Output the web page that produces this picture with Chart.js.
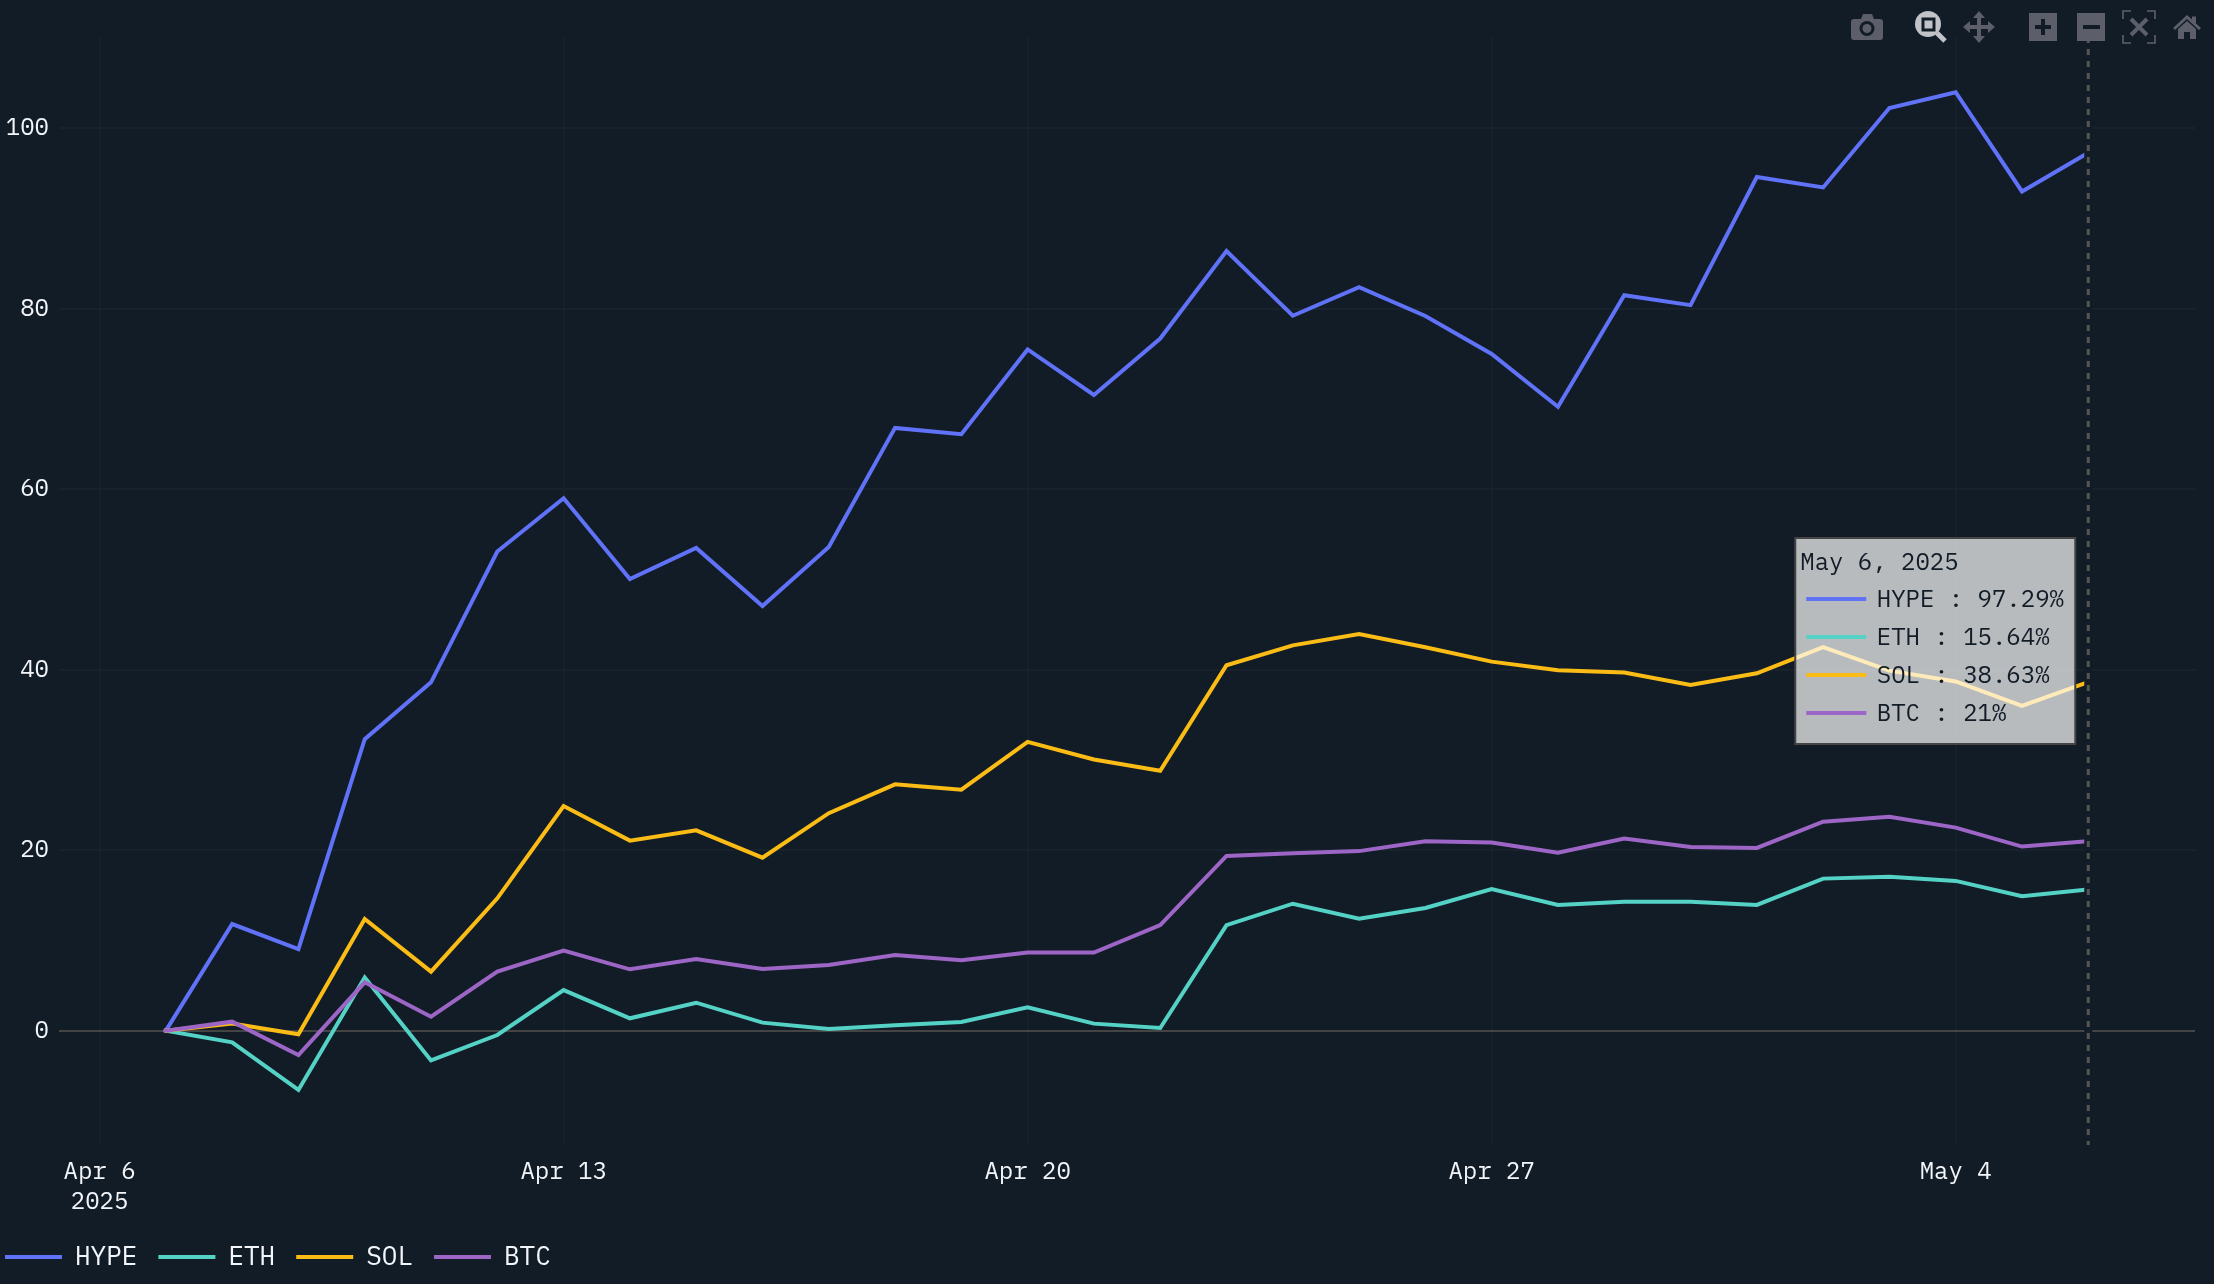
<!DOCTYPE html>
<html>
<head>
<meta charset="utf-8">
<title>HYPE ETH SOL BTC</title>
<style>
  html, body { margin: 0; padding: 0; background: #121c27; }
  #wrap { position: relative; width: 2214px; height: 1284px; overflow: hidden; }
  #myChart { position: absolute; left: 0; top: 0; }
  #modebar { position: absolute; left: 0; top: 0; }
</style>
<script src="https://cdn.jsdelivr.net/npm/chart.js@4"></script>
</head>
<body>
<div id="wrap">
  <canvas id="myChart" width="2214" height="1284"></canvas>
  <!-- plotly style toolbar -->
  <svg id="modebar" width="2214" height="60" viewBox="0 0 2214 60">
    <g fill="#5c5f69">
      <path d="M1854 19h7l2-5h9l2 5h6a3 3 0 0 1 3 3v15a3 3 0 0 1-3 3h-26a3 3 0 0 1-3-3v-15a3 3 0 0 1 3-3z"/>
      <circle cx="1867" cy="28.5" r="7.5" fill="#121c27"/>
      <circle cx="1867" cy="28.5" r="4.5"/>
      <path d="M1979 11l6 7h-4v7h7v-4l7 6-7 6v-4h-7v7h4l-6 7-6-7h4v-7h-7v4l-7-6 7-6v4h7v-7h-4z"/>
      <rect x="2029" y="13" width="28" height="28"/>
      <rect x="2077" y="13" width="28" height="28"/>
      <path d="M2173 28l14-13 5 4.500v-3h4v7l5 4.500-2 2-12-11-12 11z"/>
      <path d="M2178 29l9-8 9 8v10h-6v-7h-6v7h-6z"/>
      <g fill="none" stroke="#5c5f69">
        <path stroke-width="1.6" d="M2123 19v-8h8M2147 11h8v8M2155 35v8h-8M2131 43h-8v-8"/>
        <path stroke-width="4" d="M2131 19l16 16M2147 19l-16 16"/>
      </g>
    </g>
    <g fill="#121c27">
      <rect x="2041" y="19" width="4" height="16"/>
      <rect x="2035" y="25" width="16" height="4"/>
      <rect x="2083" y="25" width="17" height="4"/>
    </g>
    <g>
      <path d="M1937 33l8 8" stroke="#c0c3c7" stroke-width="5" fill="none"/>
      <circle cx="1928" cy="24" r="13" fill="#c0c3c7"/>
      <rect x="1923" y="19" width="11" height="11" fill="#c0c3c7" stroke="#121c27" stroke-width="3"/>
    </g>
  </svg>
</div>

<script>
// days after Apr 6 2025
const days = [1,2,3,4,5,6,7,8,9,10,11,12,13,14,15,16,17,18,19,20,21,22,23,24,25,26,27,28,29,30];

const seriesNames = ['HYPE', 'ETH', 'SOL', 'BTC'];
const seriesColors = ['#5f72f8', '#55d2c6', '#fbbc16', '#9d66c6'];

const hype = [0,11.82,9.05,32.3,38.6,53.1,59,50.05,53.5,47.06,53.6,66.8,66.1,75.5,70.45,76.7,86.4,79.23,82.4,79.2,75,69.15,81.5,80.4,94.6,93.45,102.25,104,93,97.29];
const eth = [0,-1.3,-6.57,5.9,-3.3,-0.48,4.5,1.37,3.1,0.89,0.19,0.6,0.96,2.6,0.78,0.3,11.7,14.07,12.4,13.6,15.7,13.93,14.3,14.3,13.93,16.85,17.07,16.6,14.9,15.64];
const sol = [0,0.8,-0.4,12.38,6.54,14.67,24.9,21.06,22.2,19.17,24.1,27.3,26.7,32,30.05,28.8,40.5,42.7,43.96,42.5,40.9,39.95,39.7,38.3,39.6,42.5,39.9,38.7,36,38.63];
const btc = [0,1,-2.7,5.36,1.55,6.54,8.87,6.8,7.95,6.84,7.28,8.39,7.8,8.65,8.65,11.7,19.36,19.65,19.9,21,20.84,19.73,21.3,20.36,20.25,23.16,23.7,22.5,20.4,21];

const xTickDays = [0, 7, 14, 21, 28];
const xTickLabels = [['Apr 6', '2025'], 'Apr 13', 'Apr 20', 'Apr 27', 'May 4'];
const yTickValues = [0, 20, 40, 60, 80, 100];

const hoverTitle = 'May 6, 2025';

const fontFamily = '"IBM Plex Mono", "Liberation Mono", monospace';
const textColor = '#f2f5fa';
const gridColor = '#17222d';
const vGridColor = '#15202b';
const zeroColor = '#444444';
const allSeries = [hype, eth, sol, btc];

// dashed line at the last day plus the hover box
const hoverPlugin = {
  id: 'hoverBox',
  afterDatasetsDraw(chart) {
    const c = chart.ctx;
    const area = chart.chartArea;
    const lastIdx = days.length - 1;
    const xp = chart.scales.x.getPixelForValue(days[lastIdx]);

    c.save();
    c.strokeStyle = '#121c27';
    c.lineWidth = 8;
    c.beginPath();
    c.moveTo(xp, area.top);
    c.lineTo(xp, area.bottom);
    c.stroke();
    c.strokeStyle = '#555555';
    c.lineWidth = 3;
    c.setLineDash([6, 6]);
    c.beginPath();
    c.moveTo(xp, area.top);
    c.lineTo(xp, area.bottom);
    c.stroke();
    c.setLineDash([]);

    const left = xp - 293, top = 538, w = 280, h = 206;
    c.fillStyle = 'rgba(255,255,255,0.7)';
    c.fillRect(left, top, w, h);
    c.strokeStyle = '#444444';
    c.lineWidth = 2;
    c.strokeRect(left, top, w, h);

    c.font = '24px ' + fontFamily;
    c.textBaseline = 'middle';
    c.textAlign = 'left';
    c.fillStyle = '#121c27';
    c.fillText(hoverTitle, left + 5, top + 25.5);
    seriesNames.forEach((name, i) => {
      const yp = top + 61 + i * 38;
      c.strokeStyle = seriesColors[i];
      c.lineWidth = 4;
      c.beginPath();
      c.moveTo(left + 11, yp);
      c.lineTo(left + 71, yp);
      c.stroke();
      c.fillStyle = '#121c27';
      c.fillText(name + ' : ' + allSeries[i][lastIdx] + '%', left + 81.5, yp + 1.5);
    });
    c.restore();
  }
};

new Chart(document.getElementById('myChart').getContext('2d'), {
  type: 'line',
  plugins: [hoverPlugin],
  data: {
    datasets: seriesNames.map((name, i) => ({
      label: name,
      data: days.map((d, j) => ({ x: d, y: allSeries[i][j] })),
      borderColor: seriesColors[i],
      backgroundColor: seriesColors[i],
      borderWidth: 4,
      borderCapStyle: 'square',
      pointRadius: 0,
      tension: 0,
      order: seriesNames.length - i
    }))
  },
  options: {
    responsive: false,
    animation: false,
    devicePixelRatio: 1,
    events: [],
    layout: { padding: { left: -16, right: 19, top: 37, bottom: 4 } },
    plugins: {
      tooltip: { enabled: false },
      legend: {
        position: 'bottom',
        align: 'start',
        labels: {
          color: textColor,
          font: { family: fontFamily, size: 26 },
          usePointStyle: true,
          pointStyle: 'line',
          pointStyleWidth: 57,
          padding: 21,
          sort: (a, b) => a.datasetIndex - b.datasetIndex
        }
      }
    },
    scales: {
      x: {
        type: 'linear',
        min: -0.612,
        max: 31.61,
        afterBuildTicks: s => { s.ticks = xTickDays.map(v => ({ value: v })); },
        afterFit: s => { s.height = 78; },
        border: { display: false },
        grid: { color: vGridColor, lineWidth: 2, drawTicks: false },
        ticks: {
          color: textColor,
          font: { family: fontFamily, size: 24, lineHeight: 1.25 },
          padding: 12,
          maxRotation: 0,
          autoSkip: false,
          callback: v => xTickLabels[xTickDays.indexOf(v)]
        }
      },
      y: {
        min: -12.67,
        max: 110.12,
        afterBuildTicks: s => { s.ticks = yTickValues.map(v => ({ value: v })); },
        afterFit: s => { s.width = 75; },
        border: { display: false },
        grid: {
          color: ctx => ctx.tick && ctx.tick.value === 0 ? zeroColor : gridColor,
          lineWidth: 2,
          drawTicks: false
        },
        ticks: {
          color: textColor,
          font: { family: fontFamily, size: 24 },
          padding: 10
        }
      }
    }
  }
});
</script>
</body>
</html>
